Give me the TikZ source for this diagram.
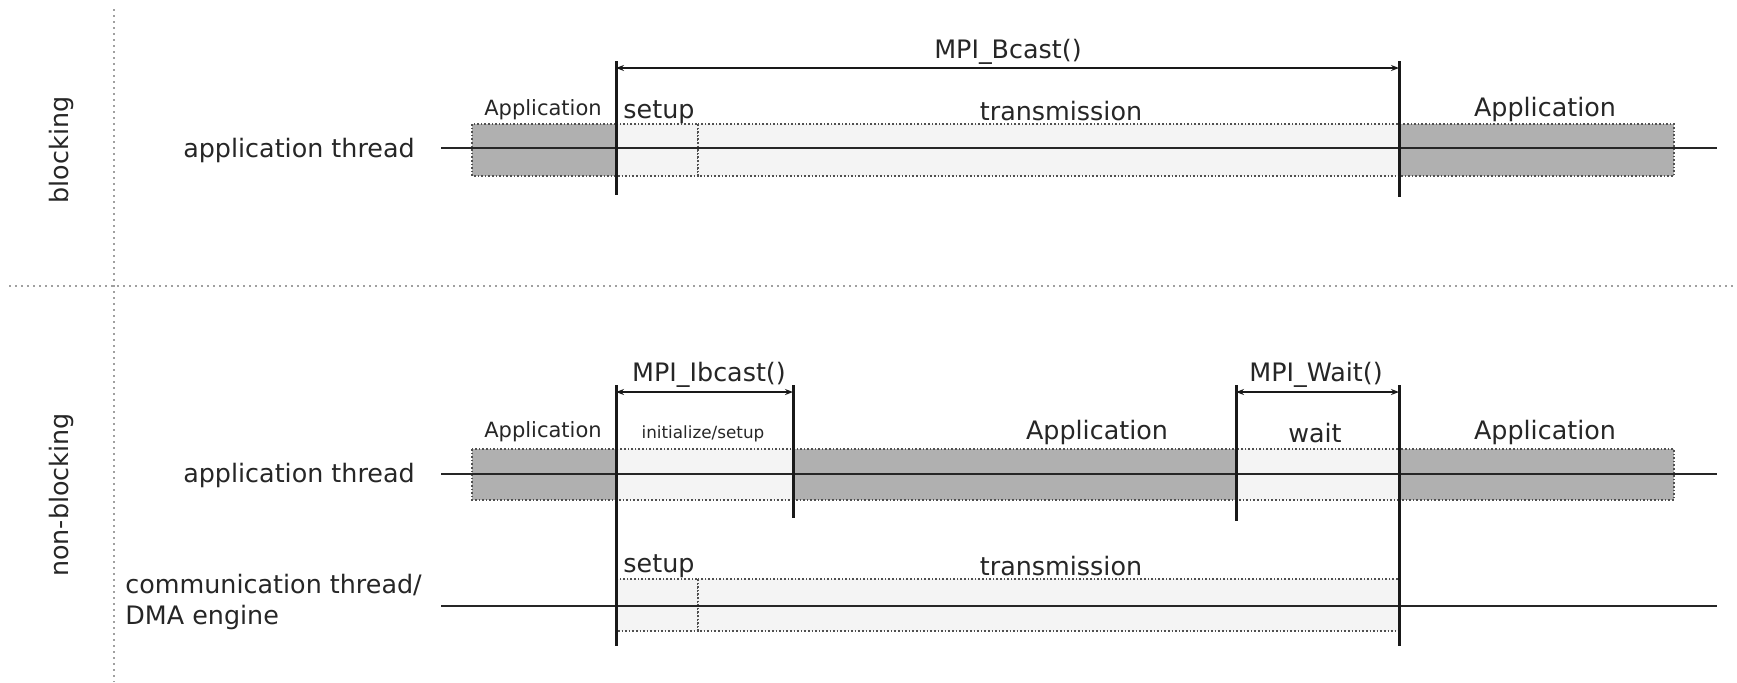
\documentclass[tikz,border=0pt]{standalone}
\usepackage{fontspec}
\setmainfont{DejaVu Sans}
\usetikzlibrary{arrows.meta}
\definecolor{appgray}{HTML}{B0B0B0}
\definecolor{idlegray}{HTML}{F4F4F4}
\definecolor{boxedge}{HTML}{505050}
\definecolor{divgray}{HTML}{A0A0A0}
\begin{document}
\begin{tikzpicture}[x=0.5pt,y=-0.5pt,
  lbl/.style={font=\fontsize{12.7}{15.5}\selectfont, inner sep=0pt, text=black!85},
  smalllbl/.style={font=\fontsize{10.5}{12}\selectfont, inner sep=0pt, text=black!85},
  tinylbl/.style={font=\fontsize{8.4}{10}\selectfont, inner sep=0pt, text=black!85},
  appbox/.style={fill=appgray, draw=boxedge, densely dotted, line width=0.8pt},
  idlebox/.style={fill=idlegray, draw=boxedge, densely dotted, line width=0.8pt},
  timeline/.style={line width=1.1pt, black!85},
  bar/.style={line width=1.5pt, black!90},
  span/.style={line width=0.9pt, black!90, {Stealth[length=4pt,width=3pt]}-{Stealth[length=4pt,width=3pt]}},
  divider/.style={draw=divgray, dotted, line width=1pt}]
\useasboundingbox (0,0) rectangle (1737,682);

% section dividers
\draw[divider] (114,9) -- (114,682);
\draw[divider] (9,286) -- (1737,286);
\node[lbl, rotate=90] (secblock) at (61,150) {blocking};
\node[lbl, rotate=90] (secnonblock) at (61,495) {non-blocking};

% ---------------- blocking ----------------
\node[lbl] (bthread) at (299,150) {application thread};
\path[appbox]  (472,124) rectangle (616,176);
\path[idlebox] (616,124) rectangle (698,176);
\path[idlebox] (698,124) rectangle (1399,176);
\path[appbox]  (1399,124) rectangle (1674,176);
\coordinate (bl0) at (441,148);
\coordinate (bl1) at (1717,148);
\draw[timeline] (bl0) -- (bl1);
\coordinate (bbar1t) at (616,61);  \coordinate (bbar1b) at (616,195);
\coordinate (bbar2t) at (1399,61); \coordinate (bbar2b) at (1399,197);
\draw[bar] (bbar1t) -- (bbar1b);
\draw[bar] (bbar2t) -- (bbar2b);
\coordinate (bcs) at (616,68); \coordinate (bce) at (1399,68);
\draw[span] (bcs) -- (bce);
\node[lbl] (bcast) at (1008,52) {MPI\_Bcast()};
\node[smalllbl] (bapp1) at (543,110) {Application};
\node[lbl] (bsetup) at (659,112) {setup};
\node[lbl] (btrans) at (1061,111) {transmission};
\node[lbl] (bapp2) at (1545,109) {Application};

% ---------------- non-blocking: application thread ----------------
\node[lbl] (nthread) at (299,475) {application thread};
\path[appbox]  (472,449) rectangle (616,500);
\path[idlebox] (616,449) rectangle (793,500);
\path[appbox]  (793,449) rectangle (1236,500);
\path[idlebox] (1236,449) rectangle (1399,500);
\path[appbox]  (1399,449) rectangle (1674,500);
\coordinate (nl0) at (441,474);
\coordinate (nl1) at (1717,474);
\draw[timeline] (nl0) -- (nl1);

% ---------------- non-blocking: communication thread ----------------
\node[lbl, align=left, anchor=west] (cthread) at (125,602) {communication thread/\\DMA engine};
\path[idlebox] (616,579) rectangle (698,631);
\path[idlebox] (698,579) rectangle (1399,631);
\coordinate (cl0) at (441,606);
\coordinate (cl1) at (1717,606);
\draw[timeline] (cl0) -- (cl1);

% call boundaries
\coordinate (nbar1t) at (616,385);  \coordinate (nbar1b) at (616,646);
\coordinate (nbar2t) at (793,385);  \coordinate (nbar2b) at (793,518);
\coordinate (nbar3t) at (1236,385); \coordinate (nbar3b) at (1236,521);
\coordinate (nbar4t) at (1399,385); \coordinate (nbar4b) at (1399,646);
\draw[bar] (nbar1t) -- (nbar1b);
\draw[bar] (nbar2t) -- (nbar2b);
\draw[bar] (nbar3t) -- (nbar3b);
\draw[bar] (nbar4t) -- (nbar4b);
\coordinate (ibs) at (616,392); \coordinate (ibe) at (793,392);
\draw[span] (ibs) -- (ibe);
\coordinate (ws) at (1236,392); \coordinate (we) at (1399,392);
\draw[span] (ws) -- (we);
\node[lbl] (ibcast) at (709,375) {MPI\_Ibcast()};
\node[lbl] (mwait) at (1316,375) {MPI\_Wait()};
\node[smalllbl] (napp1) at (543,432) {Application};
\node[tinylbl] (ninit) at (703,434) {initialize/setup};
\node[lbl] (napp2) at (1097,432) {Application};
\node[lbl] (nwait) at (1315,433) {wait};
\node[lbl] (napp3) at (1545,432) {Application};
\node[lbl] (csetup) at (659,566) {setup};
\node[lbl] (ctrans) at (1061,566) {transmission};
\end{tikzpicture}
\end{document}
